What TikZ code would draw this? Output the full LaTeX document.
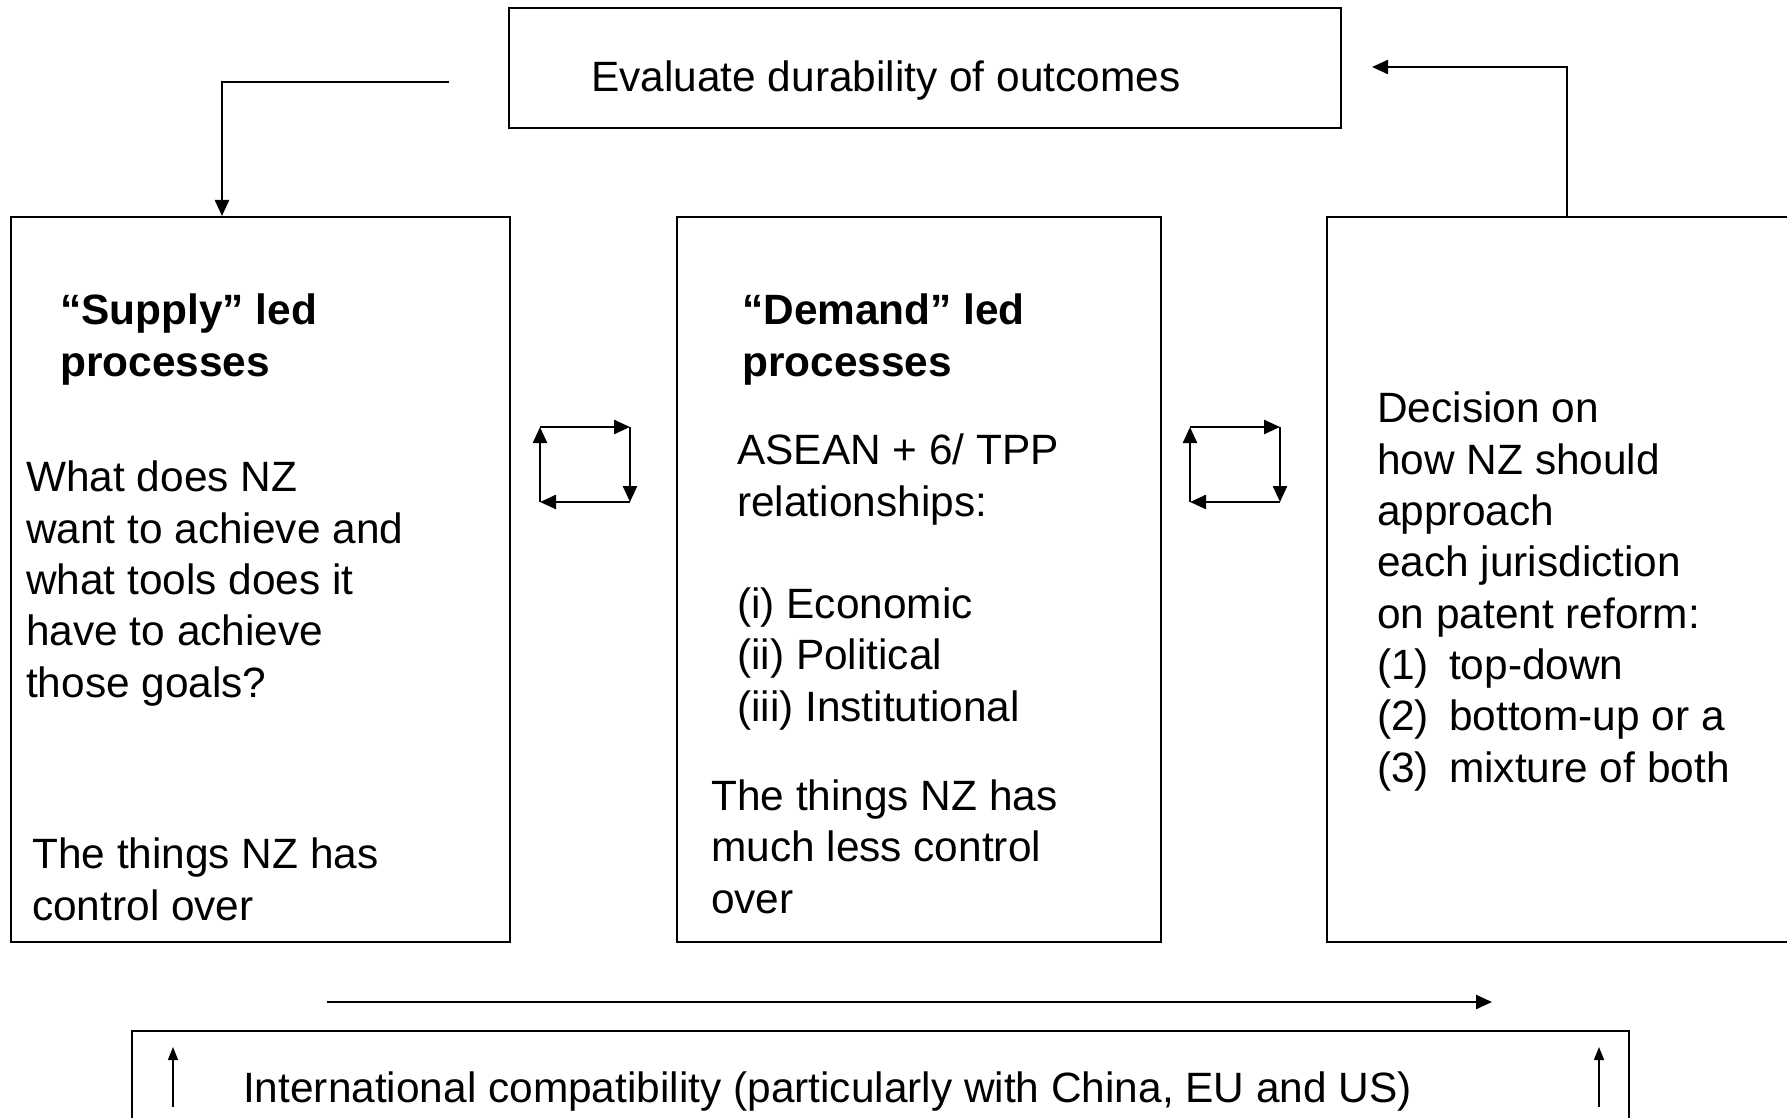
\documentclass[tikz,border=0pt]{standalone}
\usepackage{fontspec}
\setmainfont{Liberation Sans}
\usetikzlibrary{arrows.meta}
\tikzset{
  frame/.style={draw, line width=2pt, inner sep=0pt, anchor=north west},
  txt/.style={anchor=base west, inner sep=0pt, align=left},
  tip/.style={-{Triangle[length=16pt,width=14pt]}, line width=2.4pt},
  thintip/.style={-{Triangle[length=13pt,width=10pt]}, line width=1.4pt}
}
\begin{document}
\begin{tikzpicture}[x=1pt,y=-1pt,every node/.style={font=\fontsize{42.4}{51.3}\selectfont}]
	    \useasboundingbox (0,0) rectangle (1787,1118);
	    % boxes
	    \node[frame,minimum width=832pt,minimum height=120pt] (eval) at (508,7) {};
	    \node[frame,minimum width=499pt,minimum height=725pt] (supply) at (10,216) {};
	    \node[frame,minimum width=484pt,minimum height=725pt] (demand) at (676,216) {};
	    \node[frame,minimum width=480pt,minimum height=725pt] (decide) at (1326,216) {};
	    \node[frame,minimum width=1497pt,minimum height=100pt] (compat) at (131,1030) {};
	    % texts (anchored at the last line)
	    \node[txt] (evaltxt) at (591,92) {Evaluate durability of outcomes};
	    \node[txt,font=\fontsize{42.4}{51.3}\selectfont\bfseries] (supplyhd) at (60,376) {“Supply” led\\processes};
	    \node[txt] (supplytxt) at (26,697) {What does NZ\\want to achieve and\\what tools does it\\have to achieve\\those goals?};
	    \node[txt] (supplyft) at (32,920) {The things NZ has\\control over};
	    \node[txt,font=\fontsize{42.4}{51.3}\selectfont\bfseries] (demandhd) at (742,376) {“Demand” led\\processes};
	    \node[txt] (demandtxt) at (737,516) {ASEAN + 6/ TPP\\relationships:};
	    \node[txt] (demandlst) at (737,721) {(i) Economic\\(ii) Political\\(iii) Institutional};
	    \node[txt] (demandft) at (711,913) {The things NZ has\\much less control\\over};
	    \node[txt] (decidetxt) at (1377,782) {Decision on\\how NZ should\\approach\\each jurisdiction\\on patent reform:\\
	      \makebox[72pt][l]{(1)}top-down\\\makebox[72pt][l]{(2)}bottom-up or a\\\makebox[72pt][l]{(3)}mixture of both};
	    \node[txt] (compattxt) at (243,1102) {International compatibility (particularly with China, EU and US)};
	    % connectors
	    \coordinate (evalL) at (449,82);
	    \coordinate (evalR) at (1372,67);
	    \draw[tip] (evalL) -| ([xshift=212pt]supply.north west);
	    \draw[tip] ([xshift=241pt]decide.north west) |- (evalR);
	    \foreach \x in {540,1190}{
	      \draw[tip] (\x,427) -- (\x+90,427);
	      \draw[tip] (\x+90,427) -- (\x+90,502);
	      \draw[tip] (\x+90,502) -- (\x,502);
	      \draw[tip] (\x,502) -- (\x,427);
	    }
	    \coordinate (flowA) at (327,1002);
	    \coordinate (flowB) at (1492,1002);
	    \draw[tip] (flowA) -- (flowB);
	    \foreach \x in {173,1599}
	      \draw[thintip] (\x,1107) -- (\x,1047);
	\end{tikzpicture}
\end{document}
